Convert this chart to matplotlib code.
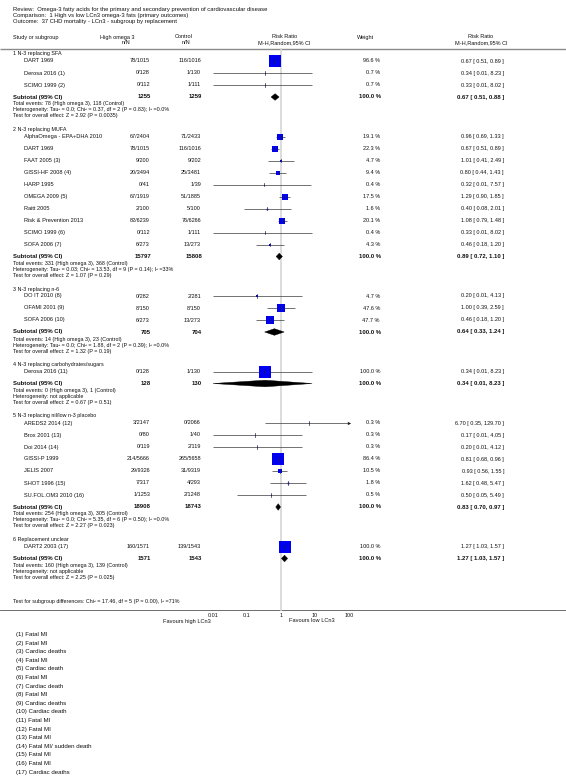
import matplotlib
matplotlib.use('Agg')
import matplotlib.pyplot as plt
from matplotlib.patches import Polygon

# ---------------- data ----------------
title_lines = [
    "Review:  Omega-3 fatty acids for the primary and secondary prevention of cardiovascular disease",
    "Comparison:  1 High vs low LCn3 omega-3 fats (primary outcomes)",
    "Outcome:  37 CHD mortality - LCn3 - subgroup by replacement",
]

sub_titles = [
    "1 N-3 replacing SFA",
    "2 N-3 replacing MUFA",
    "3 N-3 replacing n-6",
    "4 N-3 replacing carbohydrates/sugars",
    "5 N-3 replacing nil/low n-3 placebo",
    "6 Replacement unclear",
]

study_group = [0, 0, 0,
               1, 1, 1, 1, 1, 1, 1, 1, 1, 1,
               2, 2, 2,
               3,
               4, 4, 4, 4, 4, 4, 4,
               5]
study_names = [
    "DART 1969", "Derosa 2016 (1)", "SCIMO 1999 (2)",
    "AlphaOmega - EPA+DHA 2010", "DART 1969", "FAAT 2005 (3)", "GISSI-HF 2008 (4)",
    "HARP 1995", "OMEGA 2009 (5)", "Raitt 2005", "Risk & Prevention 2013",
    "SCIMO 1999 (6)", "SOFA 2006 (7)",
    "DO IT 2010 (8)", "OFAMI 2001 (9)", "SOFA 2006 (10)",
    "Derosa 2016 (11)",
    "AREDS2 2014 (12)", "Brox 2001 (13)", "Doi 2014 (14)", "GISSI-P 1999",
    "JELIS 2007", "SHOT 1996 (15)", "SU.FOL.OM3 2010 (16)",
    "DART2 2003 (17)",
]
hi_events = [78, 0, 0, 67, 78, 9, 20, 0, 67, 2, 82, 0, 6, 0, 8, 6, 0, 3, 0, 0, 214, 29, 7, 1, 160]
hi_total = [1015, 128, 112, 2404, 1015, 200, 3494, 41, 1919, 100, 6239, 112, 273,
            282, 150, 273, 128, 2147, 80, 119, 5666, 9326, 317, 1253, 1571]
ctl_events = [116, 1, 1, 71, 116, 9, 25, 1, 51, 5, 76, 1, 13, 2, 8, 13, 1, 0, 1, 2, 265, 31, 4, 2, 139]
ctl_total = [1016, 130, 111, 2433, 1016, 202, 3481, 39, 1885, 100, 6266, 111, 273,
             281, 150, 273, 130, 2066, 40, 119, 5658, 9319, 293, 1248, 1543]
weights = [96.6, 0.7, 0.7, 19.1, 22.3, 4.7, 9.4, 0.4, 17.5, 1.6, 20.1, 0.4, 4.3,
           4.7, 47.6, 47.7, 100.0, 0.3, 0.3, 0.3, 86.4, 10.5, 1.8, 0.5, 100.0]
rr = [0.67, 0.34, 0.33, 0.96, 0.67, 1.01, 0.80, 0.32, 1.29, 0.40, 1.08, 0.33, 0.46,
      0.20, 1.00, 0.46, 0.34, 6.70, 0.17, 0.20, 0.81, 0.93, 1.62, 0.50, 1.27]
rr_lo = [0.51, 0.01, 0.01, 0.69, 0.51, 0.41, 0.44, 0.01, 0.90, 0.08, 0.79, 0.01, 0.18,
         0.01, 0.39, 0.18, 0.01, 0.35, 0.01, 0.01, 0.68, 0.56, 0.48, 0.05, 1.03]
rr_hi = [0.89, 8.23, 8.02, 1.33, 0.89, 2.49, 1.43, 7.57, 1.85, 2.01, 1.48, 8.02, 1.20,
         4.13, 2.59, 1.20, 8.23, 129.70, 4.05, 4.12, 0.96, 1.55, 5.47, 5.49, 1.57]

sub_hi_total = [1255, 15797, 705, 128, 18908, 1571]
sub_ctl_total = [1259, 15808, 704, 130, 18743, 1543]
sub_rr = [0.67, 0.89, 0.64, 0.34, 0.83, 1.27]
sub_lo = [0.51, 0.72, 0.33, 0.01, 0.70, 1.03]
sub_hi = [0.88, 1.10, 1.24, 8.23, 0.97, 1.57]
sub_events_hi = [78, 331, 14, 0, 254, 160]
sub_events_ctl = [118, 368, 23, 1, 305, 139]
sub_heterogeneity = [
    "Tau\u00b2 = 0.0; Chi\u00b2 = 0.37, df = 2 (P = 0.83); I\u00b2 =0.0%",
    "Tau\u00b2 = 0.03; Chi\u00b2 = 13.53, df = 9 (P = 0.14); I\u00b2 =33%",
    "Tau\u00b2 = 0.0; Chi\u00b2 = 1.88, df = 2 (P = 0.39); I\u00b2 =0.0%",
    "not applicable",
    "Tau\u00b2 = 0.0; Chi\u00b2 = 5.35, df = 6 (P = 0.50); I\u00b2 =0.0%",
    "not applicable",
]
sub_overall = [
    "Z = 2.92 (P = 0.0035)", "Z = 1.07 (P = 0.29)", "Z = 1.32 (P = 0.19)",
    "Z = 0.67 (P = 0.51)", "Z = 2.27 (P = 0.023)", "Z = 2.25 (P = 0.025)",
]
subgroup_diff = "Test for subgroup differences: Chi\u00b2 = 17.46, df = 5 (P = 0.00), I\u00b2 =71%"

tick_values = [0.01, 0.1, 1, 10, 100]
tick_labels = ["0.01", "0.1", "1", "10", "100"]
favours_left = "Favours high LCn3"
favours_right = "Favours low LCn3"

footnotes = [
    "(1) Fatal MI", "(2) Fatal MI", "(3) Cardiac deaths", "(4) Fatal MI",
    "(5) Cardiac death", "(6) Fatal MI", "(7) Cardiac death", "(8) Fatal MI",
    "(9) Cardiac deaths", "(10) Cardiac death", "(11) Fatal MI", "(12) Fatal MI",
    "(13) Fatal MI", "(14) Fatal MI/ sudden death", "(15) Fatal MI", "(16) Fatal MI",
    "(17) Cardiac deaths",
]

# ---------------- layout ----------------
W, H, DPI = 566, 783, 100
plt.rcParams['font.family'] = ['Liberation Sans', 'DejaVu Sans']

fig = plt.figure(figsize=(W / DPI, H / DPI), dpi=DPI)
fig.patch.set_facecolor('white')
tax = fig.add_axes([0, 0, 1, 1])
tax.set_xlim(0, W)
tax.set_ylim(H, 0)
tax.axis('off')

X_LO, X_HI = 213, 349   # pixel positions of 0.01 and 100
fax = fig.add_axes([X_LO / W, 0, (X_HI - X_LO) / W, 1])
fax.set_xscale('log')
fax.set_xlim(0.01, 100)
fax.set_ylim(H, 0)
fax.axis('off')

FS_TITLE = 4.2
FS_HEAD = 4.0
FS_STUDY = 4.05
FS_NUM = 4.0
FS_SUB = 4.3
FS_STAT = 3.85
FS_NOTE = 4.4

X_LEFT = 13
X_STUDY = 23.5
X_HI_COL = 150
X_CTL_COL = 201
X_W_COL = 380
X_RR_COL = 504
TXT = '#111111'
BLUE = '#0000ee'


def t(x, y, s, ha='left', fs=FS_STUDY, bold=False):
    tax.text(x, y, s, ha=ha, va='center', fontsize=fs, color=TXT,
             fontweight='bold' if bold else 'normal')


# titles
for i, line in enumerate(title_lines):
    t(X_LEFT, 9.5 + i * 5.8, line, fs=FS_TITLE)

# headers
HY1, HY2 = 37, 42.5
t(X_LEFT, HY1, "Study or subgroup", fs=FS_HEAD)
t(117, HY1, "High omega 3", ha='center', fs=FS_HEAD)
t(126, HY2, "n/N", ha='center', fs=FS_HEAD)
t(184, HY1, "Control", ha='center', fs=FS_HEAD)
t(186, HY2, "n/N", ha='center', fs=FS_HEAD)
t(285, HY1, "Risk Ratio", ha='center', fs=FS_HEAD)
t(284, HY2, "M-H,Random,95% CI", ha='center', fs=FS_HEAD)
t(366, HY1, "Weight", ha='center', fs=FS_HEAD)
t(481, HY1, "Risk Ratio", ha='center', fs=FS_HEAD)
t(481, HY2, "M-H,Random,95% CI", ha='center', fs=FS_HEAD)
tax.plot([0, W], [48.5, 48.5], color='#8a8a8a', lw=1.0, solid_capstyle='butt')

AXIS_Y = 610
fax.plot([1, 1], [49, AXIS_Y], color='#d6d6d6', lw=1.2, zorder=0)


def fmt_rr(r, lo, hi):
    return f"{r:.2f} [ {lo:.2f}, {hi:.2f} ]"


y = 54
for g, title in enumerate(sub_titles):
    t(X_LEFT, y, title, fs=FS_STAT)
    y += 7
    idx = [i for i, sg in enumerate(study_group) if sg == g]
    for k, i in enumerate(idx):
        if k > 0:
            y += 12
        t(X_STUDY, y, study_names[i])
        t(X_HI_COL, y, f"{hi_events[i]}/{hi_total[i]}", ha='right', fs=FS_NUM)
        t(X_CTL_COL, y, f"{ctl_events[i]}/{ctl_total[i]}", ha='right', fs=FS_NUM)
        t(X_W_COL, y, f"{weights[i]:.1f} %", ha='right', fs=FS_NUM)
        t(X_RR_COL, y, fmt_rr(rr[i], rr_lo[i], rr_hi[i]), ha='right', fs=FS_NUM)
        # CI line
        upper = min(rr_hi[i], 100)
        fax.plot([rr_lo[i], upper], [y, y], color='#3a3a3a', lw=0.5,
                 solid_capstyle='butt', zorder=2, clip_on=False)
        if rr_hi[i] > 100:
            fax.plot([100], [y], marker='>', ms=2.4, color='#222222',
                     mec='#222222', mew=0, zorder=3, clip_on=False)
        side_px = 12.5 * (weights[i] / 100) ** 0.5
        fax.plot([rr[i]], [y], marker='s', ms=side_px * 0.72, color=BLUE,
                 mec=BLUE, mew=0, zorder=3, clip_on=False)
        fax.plot([rr[i], rr[i]], [y - 1.6, y + 1.6], color='#222244', lw=0.5,
                 zorder=4, clip_on=False)
    y += 12
    # subtotal
    t(X_LEFT, y, "Subtotal (95% CI)", fs=FS_SUB, bold=True)
    t(X_HI_COL + 1, y, f"{sub_hi_total[g]}", ha='right', fs=FS_SUB, bold=True)
    t(X_CTL_COL + 1, y, f"{sub_ctl_total[g]}", ha='right', fs=FS_SUB, bold=True)
    t(X_W_COL + 1, y, "100.0 %", ha='right', fs=FS_SUB, bold=True)
    t(X_RR_COL, y, fmt_rr(sub_rr[g], sub_lo[g], sub_hi[g]), ha='right', fs=FS_SUB, bold=True)
    hh = 3.3
    dia = Polygon([(sub_lo[g], y), (sub_rr[g], y - hh), (sub_hi[g], y), (sub_rr[g], y + hh)],
                  closed=True, facecolor='black', edgecolor='black', lw=0.3, zorder=3,
                  clip_on=False)
    fax.add_patch(dia)
    y += 7
    t(X_LEFT, y, f"Total events: {sub_events_hi[g]} (High omega 3), {sub_events_ctl[g]} (Control)", fs=FS_STAT)
    y += 6
    t(X_LEFT, y, "Heterogeneity: " + sub_heterogeneity[g], fs=FS_STAT)
    y += 6
    t(X_LEFT, y, "Test for overall effect: " + sub_overall[g], fs=FS_STAT)
    y += 13.5

t(X_LEFT, 601, subgroup_diff, fs=FS_STAT)

# axis
tax.plot([0, W], [AXIS_Y, AXIS_Y], color='#555555', lw=0.6)
for v, lab in zip(tick_values, tick_labels):
    fax.text(v, AXIS_Y + 5.5, lab, ha='center', va='center', fontsize=FS_STAT, color=TXT,
             clip_on=False)
t(187, AXIS_Y + 11, favours_left, ha='center', fs=FS_STUDY)
t(312, AXIS_Y + 11, favours_right, ha='center', fs=FS_STUDY)

# footnotes
for i, note in enumerate(footnotes):
    t(16, 634.5 + i * 8.6, note, fs=FS_NOTE)

fig.savefig('out.png', dpi=DPI, facecolor='white')
